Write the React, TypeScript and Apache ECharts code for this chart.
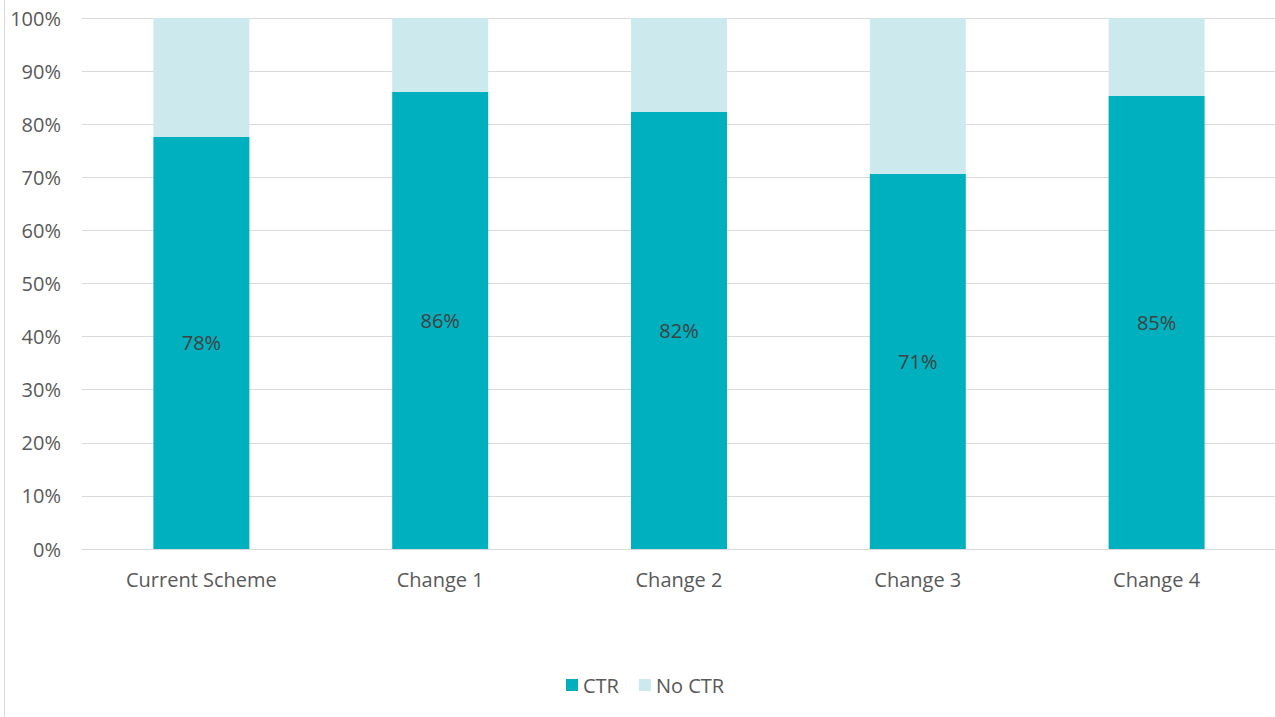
import React, { useEffect, useRef } from "react";
import * as echarts from "echarts";

const categories = ["Current Scheme", "Change 1", "Change 2", "Change 3", "Change 4"];
const ctrValues = [77.6, 86.1, 82.3, 70.6, 85.3];
const ctrLabels = ["78%", "86%", "82%", "71%", "85%"];
const noCtrValues = ctrValues.map((v) => +(100 - v).toFixed(1));
const seriesNames = ["CTR", "No CTR"];

const FONT = "'Open Sans', 'Noto Sans', sans-serif";
const TEXT = "#595959";
const FS = 20;

export default function App() {
  const ref = useRef<HTMLDivElement>(null);
  useEffect(() => {
    document.body.style.margin = "0";
    const chart = echarts.init(ref.current!, null, { renderer: "svg" });
    chart.setOption({
      animation: false,
      backgroundColor: "#ffffff",
      textStyle: { fontFamily: FONT },
      grid: { left: 82, right: -1, top: 18, bottom: 168, containLabel: false },
      legend: {
        bottom: 17,
        left: 561,
        itemWidth: 12,
        itemHeight: 12,
        itemGap: 20,
        icon: "rect",
        textStyle: { color: TEXT, fontSize: FS, fontFamily: FONT },
        data: seriesNames,
      },
      xAxis: {
        type: "category",
        data: categories,
        axisLine: { lineStyle: { color: "#d9d9d9" } },
        axisTick: { show: false },
        axisLabel: { color: TEXT, fontSize: FS, margin: 20, fontFamily: FONT },
      },
      yAxis: {
        type: "value",
        min: 0,
        max: 100,
        interval: 10,
        axisLine: { show: false },
        axisTick: { show: false },
        splitLine: { lineStyle: { color: "#d9d9d9" } },
        axisLabel: { color: TEXT, fontSize: FS, margin: 21, fontFamily: FONT, formatter: "{value}%" },
      },
      graphic: [
        { type: "line", shape: { x1: 4.5, y1: 0, x2: 4.5, y2: 717 }, style: { stroke: "#d9d9d9", lineWidth: 1 } },
        { type: "line", shape: { x1: 1275.5, y1: 0, x2: 1275.5, y2: 717 }, style: { stroke: "#d9d9d9", lineWidth: 1 } },
      ],
      series: [
        {
          name: seriesNames[0],
          type: "bar",
          stack: "total",
          barWidth: 96,
          data: ctrValues,
          itemStyle: { color: "#00B0BE" },
          label: {
            show: true,
            position: "inside",
            color: "#404040",
            fontSize: FS,
            fontFamily: FONT,
            formatter: (p: any) => ctrLabels[p.dataIndex],
          },
        },
        {
          name: seriesNames[1],
          type: "bar",
          stack: "total",
          barWidth: 96,
          data: noCtrValues,
          itemStyle: { color: "#CCEAEE" },
        },
      ],
    });
    return () => chart.dispose();
  }, []);
  return <div ref={ref} style={{ width: 1276, height: 717 }} />;
}
